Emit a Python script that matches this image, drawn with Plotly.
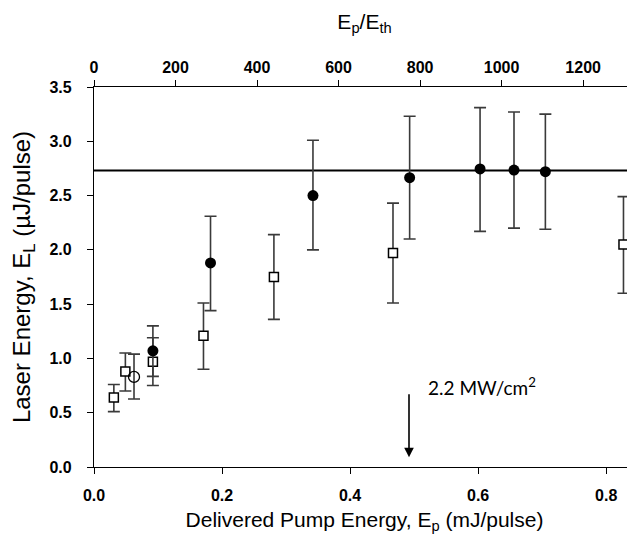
import plotly.graph_objects as go

# Open squares
sq_x = [0.031, 0.049, 0.092, 0.171, 0.281, 0.467, 0.827]
sq_y = [0.64, 0.88, 0.97, 1.21, 1.75, 1.97, 2.05]
sq_hi = [0.76, 1.05, 1.19, 1.51, 2.14, 2.43, 2.49]
sq_lo = [0.51, 0.70, 0.75, 0.90, 1.36, 1.51, 1.60]

# Filled circles
fc_x = [0.092, 0.182, 0.342, 0.493, 0.603, 0.656, 0.705]
fc_y = [1.07, 1.88, 2.50, 2.665, 2.745, 2.735, 2.72]
fc_hi = [1.30, 2.31, 3.01, 3.23, 3.31, 3.27, 3.25]
fc_lo = [0.835, 1.44, 2.00, 2.10, 2.17, 2.20, 2.19]

# Open circle
oc_x = [0.0625]
oc_y = [0.83]
oc_hi = [1.04]
oc_lo = [0.626]

saturation = 2.73
x_range = [0, 0.845]
y_range = [0, 3.5]
ratio_per_mJ = 1570.7  # Ep/Eth per mJ
top_ticks = [0, 200, 400, 600, 800, 1000, 1200]
bottom_ticks = [0.0, 0.2, 0.4, 0.6, 0.8]
y_ticks = [0.0, 0.5, 1.0, 1.5, 2.0, 2.5, 3.0, 3.5]

arrow_x = 0.492
arrow_top = 0.685
arrow_tip = 0.09
label_x = 0.519
label_y = 0.74

def err(y, hi, lo):
    return dict(type="data", symmetric=False,
                array=[h - v for h, v in zip(hi, y)],
                arrayminus=[v - l for v, l in zip(y, lo)],
                color="#3a3a3a", thickness=1.6, width=6)

fig = go.Figure()
fig.add_trace(go.Scatter(x=x_range, y=[saturation, saturation], mode="lines",
                         line=dict(color="black", width=2), showlegend=False, hoverinfo="skip"))
fig.add_trace(go.Scatter(x=sq_x, y=sq_y, mode="markers", error_y=err(sq_y, sq_hi, sq_lo),
                         marker=dict(symbol="square", size=9, color="white",
                                     line=dict(color="black", width=1.5)), showlegend=False))
fig.add_trace(go.Scatter(x=oc_x, y=oc_y, mode="markers", error_y=err(oc_y, oc_hi, oc_lo),
                         marker=dict(symbol="circle-open", size=11, color="black",
                                     line=dict(color="black", width=1.3)), showlegend=False))
fig.add_trace(go.Scatter(x=fc_x, y=fc_y, mode="markers", error_y=err(fc_y, fc_hi, fc_lo),
                         marker=dict(symbol="circle", size=11, color="black"), showlegend=False))
# invisible trace for top axis
fig.add_trace(go.Scatter(x=[0, x_range[1] * ratio_per_mJ], y=[0, 0], xaxis="x2", mode="markers",
                         marker=dict(opacity=0), showlegend=False, hoverinfo="skip"))

tickfont = dict(family="Liberation Sans", size=16, color="black", weight="bold")

fig.update_layout(
    width=627, height=537,
    margin=dict(l=86, r=0, t=79, b=78),
    plot_bgcolor="white", paper_bgcolor="white",
    xaxis=dict(range=x_range, tickvals=bottom_ticks, ticktext=[f"{v:.1f}" for v in bottom_ticks],
               showgrid=False, zeroline=False, showline=True, linecolor="black", linewidth=1.3,
               ticks="outside", ticklen=6, tickcolor="black", ticklabelstandoff=8,
               tickfont=tickfont,
               title=dict(text="Delivered Pump Energy, E<sub>p</sub> (mJ/pulse)",
                          font=dict(family="Liberation Sans", size=21, color="black"), standoff=8)),
    xaxis2=dict(range=[0, x_range[1] * ratio_per_mJ], overlaying="x", side="top", anchor="y",
                tickvals=top_ticks, showgrid=False, zeroline=False, showline=True,
                linecolor="black", linewidth=1.3, ticks="outside", ticklen=6, tickcolor="black",
                tickfont=tickfont,
                title=dict(text="E<sub>p</sub>/E<sub>th</sub>",
                           font=dict(family="Liberation Sans", size=21, color="black"), standoff=24)),
    yaxis=dict(range=y_range, tickvals=y_ticks, ticktext=[f"{v:.1f}" for v in y_ticks],
               showgrid=False, zeroline=False, showline=True, linecolor="black", linewidth=1.3,
               ticks="outside", ticklen=6, tickcolor="black", ticklabelstandoff=12,
               tickfont=tickfont,
               title=dict(text="Laser Energy, E<sub>L</sub> (µJ/pulse)",
                          font=dict(family="Liberation Sans", size=24, color="black"), standoff=13)),
    annotations=[
        dict(x=arrow_x, y=arrow_tip, ax=arrow_x, ay=arrow_top, xref="x", yref="y",
             axref="x", ayref="y", showarrow=True, arrowhead=2, arrowsize=1.2,
             arrowwidth=1.6, arrowcolor="black", text=""),
        dict(x=label_x, y=label_y, xref="x", yref="y", xanchor="left", yanchor="middle",
             text="2.2 MW/cm<sup>2</sup>", showarrow=False,
             font=dict(family="Lato", size=19, color="black")),
    ],
)

fig.write_html("out.html")
